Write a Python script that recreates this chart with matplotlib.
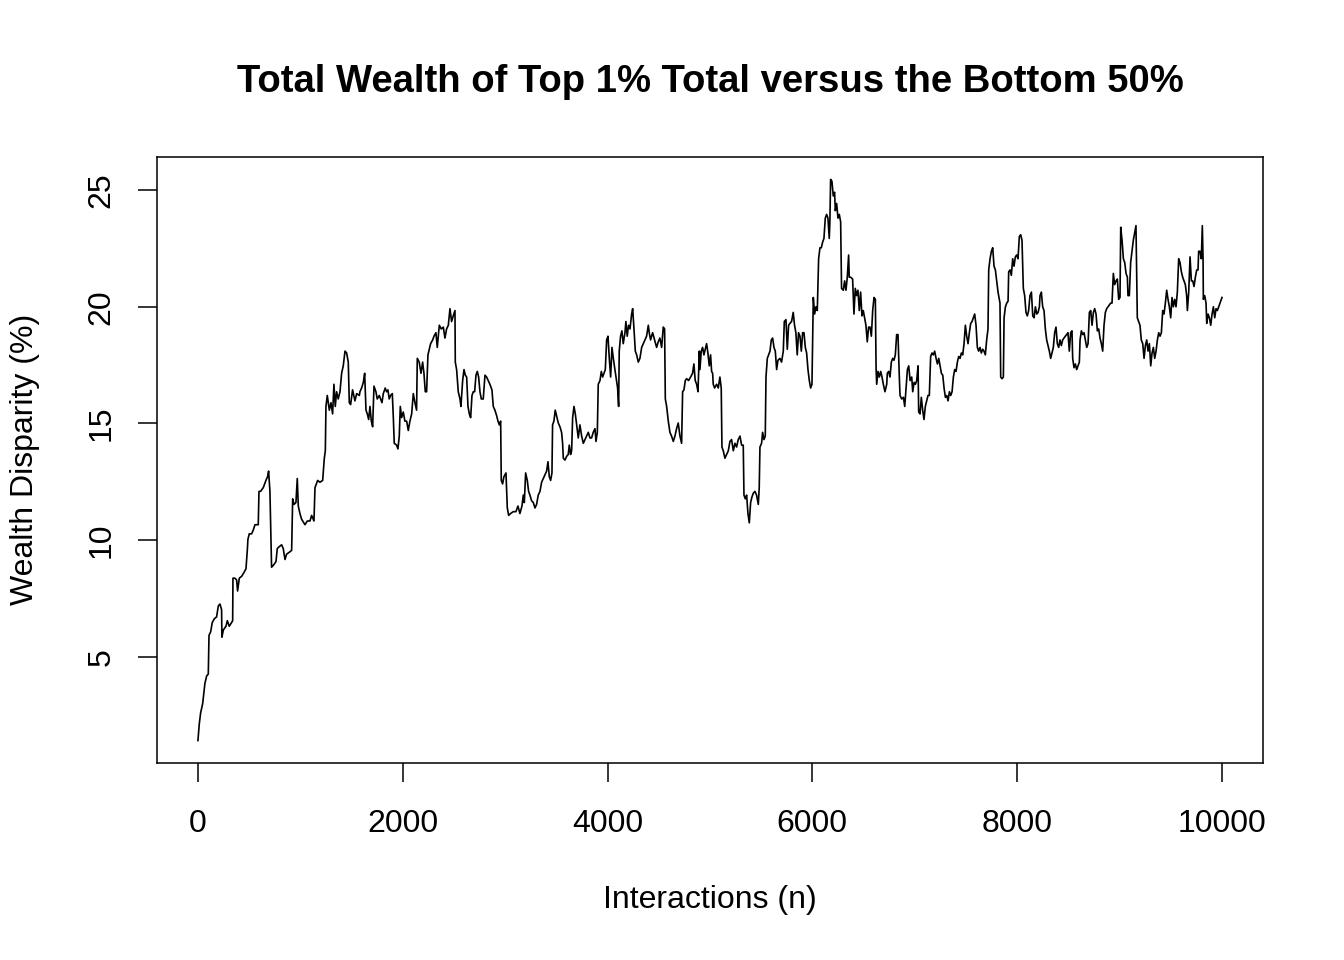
import numpy as np
import matplotlib
matplotlib.use("Agg")
import matplotlib.pyplot as plt

plt.rcParams['font.family'] = ['Liberation Sans', 'DejaVu Sans']

# values, split in six stretches of the run
n_1 = [0, 13, 26, 46, 68, 85, 101, 108, 124, 140, 160, 182, 199, 215, 231, 234, 248, 274, 287, 306,
       329, 339, 342, 361, 378, 387, 404, 427, 449, 469, 482, 488, 501, 524, 540, 557, 589, 596, 612, 638,
       664, 680, 690, 703, 719, 736, 762, 775, 794, 817, 833, 850, 866, 892, 915, 925, 938, 957, 970, 980,
       996, 1012, 1045, 1068, 1094, 1110, 1133, 1143, 1169, 1191, 1218, 1234, 1244, 1250, 1263, 1283, 1299,
       1315, 1328, 1341, 1354, 1370, 1387, 1403, 1419, 1436, 1452, 1468, 1478, 1491, 1510, 1533, 1550, 1576]
wd_1 = [1.41, 2.12, 2.59, 2.99, 3.86, 4.18, 4.26, 5.92, 6.07, 6.47, 6.63, 6.71, 7.18, 7.26, 7.02, 5.84,
        6.15, 6.31, 6.55, 6.31, 6.47, 6.55, 8.37, 8.37, 8.29, 7.82, 8.37, 8.45, 8.61, 8.77, 9.56, 10.03,
        10.27, 10.27, 10.43, 10.66, 10.66, 12.09, 12.09, 12.25, 12.56, 12.72, 12.96, 12.09, 8.84, 8.92, 9.08,
        9.64, 9.72, 9.80, 9.64, 9.17, 9.40, 9.48, 9.56, 11.77, 11.53, 11.61, 12.64, 11.46, 11.14, 10.90,
        10.66, 10.82, 10.82, 11.06, 10.82, 12.25, 12.56, 12.48, 12.56, 13.51, 13.83, 15.73, 16.20, 15.57,
        15.89, 15.41, 16.68, 15.73, 16.36, 16.05, 16.36, 17.15, 17.47, 18.10, 18.02, 17.63, 15.89, 15.81,
        16.44, 15.97, 16.28, 16.20]

n_2 = [1582, 1598, 1615, 1628, 1641, 1654, 1667, 1680, 1693, 1706, 1719, 1738, 1751, 1771, 1784, 1797,
       1810, 1829, 1842, 1855, 1868, 1881, 1898, 1908, 1917, 1940, 1953, 1966, 1976, 1989, 2005, 2021,
       2038, 2054, 2070, 2087, 2103, 2119, 2135, 2142, 2161, 2178, 2194, 2207, 2220, 2233, 2246, 2259,
       2272, 2292, 2305, 2324, 2337, 2357, 2376, 2396, 2412, 2428, 2445, 2461, 2477, 2493, 2510, 2513,
       2526, 2542, 2559, 2568, 2585, 2598, 2611, 2624, 2637, 2650, 2663, 2676, 2689, 2702, 2715, 2728,
       2741, 2754, 2767, 2786, 2803, 2819, 2835, 2851, 2871, 2884, 2900, 2917, 2930, 2943, 2956, 2962,
       2975, 2988, 3008, 3021, 3034, 3053, 3079, 3105, 3125, 3144, 3164, 3177, 3187, 3200, 3216, 3229]
wd_2 = [16.36, 16.52, 16.76, 17.15, 15.57, 15.41, 15.17, 15.73, 15.10, 14.86, 16.60, 16.36, 16.05, 16.20,
        16.05, 15.89, 16.28, 16.52, 16.36, 16.44, 16.05, 16.20, 16.28, 15.25, 14.15, 14.07, 13.91, 14.46,
        15.73, 15.25, 15.49, 15.10, 15.10, 14.70, 15.10, 15.41, 16.28, 15.89, 15.57, 17.79, 17.63, 17.15,
        17.63, 17.15, 16.36, 16.36, 17.94, 18.18, 18.42, 18.58, 18.74, 18.89, 18.26, 19.21, 19.05, 19.13,
        18.66, 19.05, 19.21, 19.92, 19.37, 19.61, 19.84, 17.63, 17.31, 16.36, 16.05, 15.73, 16.84, 17.31,
        17.07, 16.99, 15.73, 15.41, 15.25, 16.20, 16.36, 16.36, 17.07, 17.23, 16.99, 16.36, 16.05, 16.05,
        17.07, 16.99, 16.84, 16.68, 16.44, 15.73, 15.57, 15.33, 15.10, 14.94, 15.10, 12.56, 12.41, 12.72,
        12.88, 11.38, 11.06, 11.14, 11.22, 11.22, 11.46, 11.14, 11.46, 11.93, 11.61, 12.88, 12.56, 12.09]

n_3 = [3242, 3258, 3275, 3291, 3307, 3323, 3340, 3356, 3372, 3388, 3405, 3418, 3431, 3444, 3457, 3463,
       3476, 3489, 3502, 3519, 3535, 3551, 3561, 3568, 3584, 3600, 3616, 3626, 3639, 3649, 3659, 3672,
       3685, 3698, 3714, 3730, 3747, 3763, 3779, 3795, 3812, 3828, 3844, 3860, 3877, 3887, 3900, 3909,
       3926, 3939, 3952, 3965, 3978, 3991, 4004, 4017, 4030, 4043, 4056, 4072, 4088, 4098, 4108, 4114,
       4127, 4140, 4153, 4170, 4179, 4192, 4205, 4219, 4235, 4245, 4258, 4271, 4284, 4300, 4316, 4333,
       4349, 4365, 4381, 4398, 4407, 4420, 4440, 4459, 4479, 4495, 4511, 4528, 4544, 4557, 4564, 4577,
       4593, 4609, 4625, 4642, 4658, 4674, 4690, 4707, 4723, 4733, 4746, 4759, 4772, 4791, 4811, 4830,
       4843, 4856, 4870, 4883, 4896]
wd_3 = [11.93, 11.69, 11.61, 11.38, 11.53, 11.93, 12.09, 12.48, 12.64, 12.80, 12.96, 13.36, 12.72, 12.56,
        12.88, 14.94, 15.10, 15.57, 15.33, 15.02, 14.86, 14.62, 14.15, 13.51, 13.43, 13.59, 13.67, 14.07,
        13.67, 13.83, 15.25, 15.73, 15.41, 14.94, 14.38, 14.94, 14.46, 14.15, 14.31, 14.46, 14.62, 14.38,
        14.38, 14.62, 14.78, 14.23, 14.62, 16.68, 16.84, 17.23, 16.99, 17.15, 17.31, 18.58, 18.74, 17.79,
        16.99, 18.26, 17.79, 17.31, 16.84, 16.52, 15.73, 18.10, 18.74, 18.97, 18.42, 18.89, 19.37, 18.74,
        19.21, 19.05, 19.69, 19.92, 19.05, 18.10, 17.94, 17.63, 17.79, 18.26, 18.42, 18.58, 18.74, 19.21,
        18.89, 18.58, 18.89, 18.58, 18.26, 18.50, 18.66, 18.26, 19.13, 19.05, 16.05, 15.73, 15.10, 14.62,
        14.46, 14.23, 14.46, 14.78, 15.02, 14.46, 14.15, 16.36, 16.44, 16.84, 16.92, 16.84, 16.99, 17.15,
        17.55, 16.84, 16.68, 16.36, 18.10]

n_4 = [4902, 4915, 4928, 4941, 4954, 4967, 4980, 4993, 5006, 5016, 5026, 5032, 5045, 5065, 5081, 5097,
       5110, 5117, 5130, 5146, 5162, 5179, 5195, 5211, 5228, 5244, 5260, 5276, 5293, 5309, 5325, 5332,
       5345, 5358, 5371, 5384, 5397, 5410, 5423, 5439, 5455, 5472, 5481, 5488, 5504, 5514, 5527, 5540,
       5547, 5560, 5573, 5586, 5599, 5612, 5625, 5638, 5651, 5664, 5683, 5699, 5716, 5726, 5742, 5755,
       5768, 5781, 5797, 5813, 5826, 5839, 5852, 5865, 5879, 5892, 5905, 5918, 5931, 5944, 5957, 5970,
       5983, 5996, 6009, 6022, 6035, 6048, 6061, 6074, 6087, 6100, 6113, 6126, 6139, 6152, 6165, 6171,
       6178, 6191, 6204, 6217, 6224, 6237, 6250, 6263, 6276, 6285, 6302, 6315, 6328, 6341, 6354, 6360,
       6373, 6393, 6406, 6419, 6432, 6445, 6458, 6471, 6484, 6497, 6510, 6523, 6536, 6549, 6562]
wd_4 = [17.31, 18.10, 18.26, 17.94, 18.18, 18.42, 18.02, 17.47, 17.94, 17.23, 17.15, 16.68, 16.52, 16.68,
        16.52, 16.99, 16.52, 13.99, 13.83, 13.51, 13.67, 13.83, 14.23, 14.31, 13.83, 14.15, 13.99, 14.31,
        14.46, 14.07, 14.07, 11.93, 11.77, 11.93, 11.14, 10.74, 11.61, 11.85, 12.01, 12.09, 11.93, 11.53,
        12.25, 13.99, 14.15, 14.62, 14.31, 14.46, 16.99, 17.79, 17.94, 18.10, 18.58, 18.66, 18.26, 18.10,
        17.31, 17.71, 17.79, 17.63, 18.10, 19.37, 19.45, 18.18, 19.21, 19.29, 19.37, 19.76, 19.21, 18.89,
        17.94, 18.89, 18.74, 18.10, 18.89, 18.89, 18.26, 18.02, 17.31, 16.84, 16.52, 16.68, 20.40, 19.69,
        20.00, 19.84, 22.06, 22.53, 22.53, 22.77, 22.93, 23.80, 23.96, 23.80, 22.93, 23.64, 25.46, 25.38,
        24.75, 24.91, 24.12, 24.43, 23.80, 23.96, 23.64, 20.79, 20.71, 21.11, 20.71, 21.27, 22.22, 21.27,
        21.27, 21.19, 19.69, 20.79, 20.48, 20.71, 19.84, 20.63, 19.61, 19.84, 19.53, 19.21, 18.50, 19.13,
        19.13]

n_5 = [6563, 6576, 6589, 6602, 6615, 6622, 6628, 6641, 6654, 6667, 6680, 6693, 6709, 6726, 6732, 6745,
       6758, 6771, 6784, 6797, 6810, 6823, 6836, 6849, 6856, 6872, 6889, 6902, 6915, 6928, 6941, 6954,
       6970, 6980, 6993, 7006, 7019, 7032, 7038, 7051, 7064, 7077, 7090, 7103, 7116, 7129, 7142, 7155,
       7168, 7181, 7194, 7208, 7221, 7234, 7247, 7260, 7273, 7286, 7299, 7312, 7325, 7338, 7351, 7364,
       7377, 7390, 7403, 7416, 7429, 7442, 7455, 7468, 7481, 7494, 7507, 7520, 7533, 7546, 7559, 7572,
       7585, 7598, 7611, 7624, 7637, 7650, 7663, 7676, 7689, 7702, 7715, 7722, 7735, 7748, 7761, 7774,
       7787, 7800, 7813, 7819, 7832, 7839, 7852, 7865, 7872, 7885, 7898, 7911, 7917, 7930, 7943, 7956,
       7969, 7982, 7995, 8008, 8021, 8034, 8047, 8060, 8073, 8086, 8099, 8112, 8125, 8139, 8152, 8165,
       8178, 8191, 8204, 8217]
wd_5 = [19.13, 18.74, 19.84, 20.40, 20.32, 17.39, 16.68, 17.23, 16.99, 17.23, 16.99, 16.68, 16.36, 16.68,
        17.15, 17.23, 16.99, 17.63, 17.79, 17.71, 17.94, 18.81, 18.81, 16.99, 16.20, 16.05, 16.12, 15.73,
        16.52, 17.31, 17.47, 16.84, 16.99, 16.36, 16.76, 16.68, 16.84, 17.47, 15.49, 15.41, 16.12, 15.57,
        15.17, 15.73, 15.97, 16.20, 16.20, 17.87, 18.02, 17.94, 18.10, 17.79, 17.55, 17.79, 17.47, 17.15,
        17.07, 16.52, 16.12, 16.20, 15.97, 16.36, 16.20, 16.36, 16.99, 17.31, 17.23, 17.63, 17.87, 17.79,
        18.02, 17.94, 18.42, 19.21, 18.74, 18.42, 18.89, 19.29, 19.37, 19.53, 19.69, 19.21, 18.26, 18.10,
        18.26, 18.02, 18.18, 18.10, 17.94, 18.58, 19.05, 21.58, 22.06, 22.38, 22.53, 21.74, 21.58, 21.11,
        20.63, 20.48, 20.16, 16.99, 16.92, 16.99, 19.53, 20.00, 20.16, 20.24, 21.50, 21.58, 21.35, 22.06,
        21.74, 22.14, 22.22, 22.06, 23.01, 23.09, 22.85, 20.79, 20.48, 19.76, 19.61, 19.84, 20.48, 20.63,
        19.61, 19.53, 20.00, 19.69, 19.76, 20.00]

n_6 = [8223, 8236, 8249, 8262, 8275, 8288, 8301, 8314, 8327, 8340, 8353, 8366, 8379, 8392, 8405, 8418,
       8431, 8444, 8457, 8470, 8483, 8496, 8509, 8522, 8535, 8542, 8555, 8568, 8581, 8594, 8607, 8614,
       8627, 8640, 8653, 8666, 8679, 8692, 8705, 8718, 8731, 8744, 8757, 8770, 8783, 8796, 8809, 8822,
       8835, 8848, 8861, 8874, 8887, 8900, 8913, 8926, 8939, 8952, 8965, 8978, 8991, 9004, 9011, 9024,
       9037, 9050, 9063, 9076, 9082, 9095, 9108, 9121, 9134, 9147, 9160, 9167, 9173, 9186, 9199, 9212,
       9226, 9239, 9252, 9265, 9278, 9291, 9304, 9317, 9330, 9343, 9356, 9369, 9382, 9395, 9408, 9421,
       9434, 9447, 9460, 9473, 9486, 9499, 9512, 9525, 9538, 9551, 9564, 9577, 9590, 9603, 9616, 9629,
       9642, 9655, 9662, 9675, 9688, 9701, 9714, 9727, 9740, 9753, 9766, 9772, 9785, 9798, 9808, 9815,
       9818, 9831, 9844, 9851, 9864, 9877, 9890, 9903, 9916, 9929, 9942, 9955, 9968, 9981, 10000]
wd_6 = [20.48, 20.63, 20.00, 19.84, 19.05, 18.58, 18.34, 18.10, 17.79, 18.02, 18.26, 18.89, 19.13, 18.42,
        18.26, 18.58, 18.34, 18.58, 18.66, 18.74, 18.81, 18.89, 18.10, 18.89, 18.97, 17.79, 17.39, 17.55,
        17.31, 17.47, 17.63, 18.58, 18.97, 18.81, 18.89, 18.58, 18.26, 18.42, 19.76, 19.84, 19.21, 19.76,
        19.92, 19.69, 18.97, 19.05, 18.66, 18.42, 18.10, 19.21, 19.76, 19.92, 20.00, 20.08, 20.16, 20.16,
        21.43, 20.95, 21.11, 21.19, 20.32, 20.40, 23.41, 22.85, 22.06, 21.90, 21.43, 21.27, 20.48, 20.48,
        21.90, 22.38, 22.85, 23.17, 23.48, 21.27, 19.53, 19.37, 19.21, 18.58, 18.42, 17.79, 18.34, 18.58,
        18.10, 18.42, 17.47, 18.02, 18.26, 17.79, 18.10, 18.58, 18.89, 18.74, 18.89, 19.84, 19.69, 20.16,
        20.71, 20.32, 20.00, 19.53, 20.40, 20.00, 20.32, 20.00, 20.63, 22.06, 21.90, 21.51, 21.27, 21.11,
        20.95, 20.48, 19.84, 20.63, 22.14, 21.11, 21.11, 20.87, 21.27, 21.58, 21.58, 22.38, 22.38, 22.06,
        23.48, 22.06, 20.32, 20.48, 20.16, 19.29, 19.69, 19.53, 19.21, 19.69, 20.00, 19.53, 19.92, 19.84,
        20.00, 20.16, 20.40]

x_ticks = [0, 2000, 4000, 6000, 8000, 10000]
y_ticks = [5, 10, 15, 20, 25]

interactions = np.array(n_1 + n_2 + n_3 + n_4 + n_5 + n_6)
disparity = np.array(wd_1 + wd_2 + wd_3 + wd_4 + wd_5 + wd_6)


def pad_range(v, frac=0.04):
    # base R style axis range, 4% extra on each side
    lo, hi = v.min(), v.max()
    d = (hi - lo) * frac
    return lo - d, hi + d


fig = plt.figure(figsize=(13.44, 9.6), dpi=100)
ax = fig.add_axes([0.1168, 0.2052, 0.8229, 0.6313])

ax.plot(interactions, disparity, color='black', linewidth=1.2)

ax.set_xlim(*pad_range(interactions))
ax.set_ylim(*pad_range(disparity))
ax.set_xticks(x_ticks)
ax.set_yticks(y_ticks)
ax.set_xticklabels([str(t) for t in x_ticks])
ax.set_yticklabels([str(t) for t in y_ticks], rotation=90, va='center')
ax.tick_params(axis='both', direction='out', length=14, width=1.1, labelsize=23, colors='black')
ax.tick_params(axis='x', pad=19)
ax.tick_params(axis='y', pad=15)
for s in ax.spines.values():
    s.set_linewidth(1.1)
    s.set_color('black')

fig.text(0.5283, 0.915, 'Total Wealth of Top 1% Total versus the Bottom 50%',
         ha='center', va='center', fontsize=27.5, fontweight='bold')
fig.text(0.5283, 0.0625, 'Interactions (n)', ha='center', va='center', fontsize=23)
fig.text(0.0186, 0.521, 'Wealth Disparity (%)', ha='center', va='center', fontsize=23, rotation=90)

fig.savefig('out.png', dpi=100, facecolor='white')
